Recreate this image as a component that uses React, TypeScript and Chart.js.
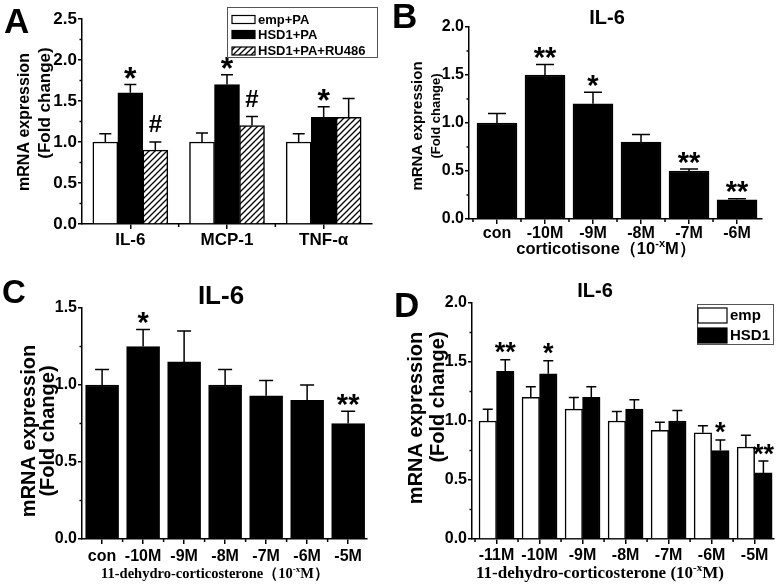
import React, { useEffect, useRef } from 'react';
import { Chart, registerables } from 'chart.js';

Chart.register(...registerables);

const SANS = '"Liberation Sans", Arial, sans-serif';
const SERIF = '"Liberation Serif", "Times New Roman", serif';

// ---------- Panel A ----------
const A_CATEGORIES = ['IL-6', 'MCP-1', 'TNF-α'];
const A_Y_TICKS = [0, 0.5, 1.0, 1.5, 2.0, 2.5];
const A_EMP = [1.0, 1.0, 1.0];
const A_EMP_ERR = [0.1, 0.11, 0.1];
const A_EMP_MARKS = ['', '', ''];
const A_HSD1 = [1.6, 1.7, 1.3];
const A_HSD1_ERR = [0.1, 0.12, 0.13];
const A_HSD1_MARKS = ['*', '*', '*'];
const A_RU486 = [0.9, 1.2, 1.3];
const A_RU486_ERR = [0.1, 0.11, 0.23];
const A_RU486_MARKS = ['#', '#', ''];

// ---------- Panel B ----------
const B_CATEGORIES = ['con', '-10M', '-9M', '-8M', '-7M', '-6M'];
const B_Y_TICKS = [0, 0.5, 1.0, 1.5, 2.0];
const B_VALUES = [1.0, 1.5, 1.2, 0.8, 0.5, 0.2];
const B_ERR = [0.1, 0.11, 0.12, 0.08, 0.02, 0.01];
const B_MARKS = ['', '**', '*', '', '**', '**'];

// ---------- Panel C ----------
const C_CATEGORIES = ['con', '-10M', '-9M', '-8M', '-7M', '-6M', '-5M'];
const C_Y_TICKS = [0, 0.5, 1.0, 1.5];
const C_VALUES = [1.0, 1.25, 1.15, 1.0, 0.93, 0.9, 0.75];
const C_ERR = [0.1, 0.11, 0.2, 0.1, 0.1, 0.1, 0.08];
const C_MARKS = ['', '*', '', '', '', '', '**'];

// ---------- Panel D ----------
const D_CATEGORIES = ['-11M', '-10M', '-9M', '-8M', '-7M', '-6M', '-5M'];
const D_Y_TICKS = [0, 0.5, 1.0, 1.5, 2.0];
const D_EMP = [1.0, 1.2, 1.1, 1.0, 0.92, 0.9, 0.78];
const D_EMP_ERR = [0.1, 0.09, 0.1, 0.08, 0.07, 0.06, 0.1];
const D_EMP_MARKS = ['', '', '', '', '', '', ''];
const D_HSD1 = [1.42, 1.4, 1.2, 1.1, 1.0, 0.75, 0.56];
const D_HSD1_ERR = [0.1, 0.11, 0.09, 0.08, 0.09, 0.09, 0.1];
const D_HSD1_MARKS = ['**', '*', '', '', '', '*', '**'];

type Kind = 'white' | 'black' | 'hatch';
type Series = { label: string; values: number[]; errors: number[]; marks: string[]; kind: Kind };
type TextItem = { text: string; x: number; y: number; size: number };
type TextPart = { text: string; sup?: boolean };
type Panel = {
  letter: TextItem;
  area: { left: number; right: number; top: number; bottom: number };
  yTicks: number[];
  xMin: number;
  xMax: number;
  categories: string[];
  series: Series[];
  barThickness: number;
  capWidth: number;
  tickSize: number;
  xLabelPad: number;
  starSize: number;
  title?: TextItem;
  yTitle: TextItem[];
  xTitle: { parts: TextPart[]; x: number; y: number; size: number; family: string };
  legend?: {
    box: [number, number, number, number];
    swX: number;
    swW: number;
    swH: number;
    rows: number[];
    textX: number;
    size: number;
  };
};

const PANELS: Panel[] = [
  {
    letter: { text: 'A', x: 4, y: 33, size: 35 },
    area: { left: 82, right: 372, top: 19, bottom: 224 },
    yTicks: A_Y_TICKS,
    xMin: -0.5,
    xMax: 2.5,
    categories: A_CATEGORIES,
    series: [
      { label: 'emp+PA', values: A_EMP, errors: A_EMP_ERR, marks: A_EMP_MARKS, kind: 'white' },
      { label: 'HSD1+PA', values: A_HSD1, errors: A_HSD1_ERR, marks: A_HSD1_MARKS, kind: 'black' },
      { label: 'HSD1+PA+RU486', values: A_RU486, errors: A_RU486_ERR, marks: A_RU486_MARKS, kind: 'hatch' },
    ],
    barThickness: 25,
    capWidth: 12,
    tickSize: 17,
    xLabelPad: 1,
    starSize: 32,
    yTitle: [
      { text: 'mRNA expression', x: 25, y: 122, size: 16 },
      { text: '(Fold change)', x: 45, y: 103, size: 17 },
    ],
    xTitle: { parts: [], x: 0, y: 0, size: 0, family: SANS },
    legend: { box: [227, 7, 150, 50], swX: 232, swW: 23, swH: 8, rows: [19.5, 34.5, 51], textX: 258, size: 13 },
  },
  {
    letter: { text: 'B', x: 392, y: 28, size: 35 },
    area: { left: 469, right: 762, top: 27, bottom: 219 },
    yTicks: B_Y_TICKS,
    xMin: -0.583,
    xMax: 5.52,
    categories: B_CATEGORIES,
    series: [{ label: 'IL-6', values: B_VALUES, errors: B_ERR, marks: B_MARKS, kind: 'black' }],
    barThickness: 40,
    capWidth: 18,
    tickSize: 16,
    xLabelPad: 0,
    starSize: 29,
    title: { text: 'IL-6', x: 607, y: 24, size: 20 },
    yTitle: [
      { text: 'mRNA expression', x: 418, y: 126, size: 15 },
      { text: '(Fold change)', x: 436, y: 116, size: 13 },
    ],
    xTitle: {
      parts: [{ text: 'corticotisone（10' }, { text: '-x', sup: true }, { text: 'M）' }],
      x: 606,
      y: 254,
      size: 16.5,
      family: SANS,
    },
  },
  {
    letter: { text: 'C', x: 2, y: 303, size: 33 },
    area: { left: 82, right: 367, top: 308, bottom: 539 },
    yTicks: C_Y_TICKS,
    xMin: -0.49,
    xMax: 6.46,
    categories: C_CATEGORIES,
    series: [{ label: 'IL-6', values: C_VALUES, errors: C_ERR, marks: C_MARKS, kind: 'black' }],
    barThickness: 33,
    capWidth: 14,
    tickSize: 16,
    xLabelPad: 3,
    starSize: 29,
    title: { text: 'IL-6', x: 221, y: 304, size: 26 },
    yTitle: [
      { text: 'mRNA expression', x: 29, y: 431, size: 20 },
      { text: '(Fold change)', x: 48, y: 431, size: 20 },
    ],
    xTitle: {
      parts: [{ text: '11-dehydro-corticosterone（10' }, { text: '-x', sup: true }, { text: 'M）' }],
      x: 215,
      y: 578,
      size: 14.5,
      family: SERIF,
    },
  },
  {
    letter: { text: 'D', x: 394, y: 317, size: 35 },
    area: { left: 472, right: 774, top: 303, bottom: 539 },
    yTicks: D_Y_TICKS,
    xMin: -0.57,
    xMax: 6.45,
    categories: D_CATEGORIES,
    series: [
      { label: 'emp', values: D_EMP, errors: D_EMP_ERR, marks: D_EMP_MARKS, kind: 'white' },
      { label: 'HSD1', values: D_HSD1, errors: D_HSD1_ERR, marks: D_HSD1_MARKS, kind: 'black' },
    ],
    barThickness: 17.5,
    capWidth: 10,
    tickSize: 16,
    xLabelPad: 2,
    starSize: 27,
    title: { text: 'IL-6', x: 595, y: 297, size: 20 },
    yTitle: [
      { text: 'mRNA expression', x: 416, y: 418, size: 20 },
      { text: '(Fold change)', x: 438, y: 397, size: 20 },
    ],
    xTitle: {
      parts: [{ text: '11-dehydro-corticosterone (10' }, { text: '-x', sup: true }, { text: 'M)' }],
      x: 600,
      y: 578,
      size: 17,
      family: SERIF,
    },
    legend: { box: [697, 304, 76, 40], swX: 698, swW: 29, swH: 15, rows: [315.5, 335.5], textX: 730, size: 15 },
  },
];

const W = 782;
const H = 587;
const Y_AXIS_W = 60;
const X_AXIS_H = 30;

function makeHatch(): CanvasPattern | string {
  const c = document.createElement('canvas');
  c.width = 6;
  c.height = 6;
  const g = c.getContext('2d');
  if (!g) return '#888';
  g.fillStyle = '#fff';
  g.fillRect(0, 0, 6, 6);
  g.strokeStyle = '#000';
  g.lineWidth = 1.3;
  g.beginPath();
  g.moveTo(-1, 7);
  g.lineTo(7, -1);
  g.moveTo(-1, 1);
  g.lineTo(1, -1);
  g.moveTo(5, 7);
  g.lineTo(7, 5);
  g.stroke();
  return g.createPattern(c, 'repeat') || '#888';
}

function fillFor(kind: Kind, hatch: CanvasPattern | string): any {
  if (kind === 'black') return '#000';
  if (kind === 'hatch') return hatch;
  return '#fff';
}

function drawRotated(ctx: CanvasRenderingContext2D, t: TextItem) {
  ctx.save();
  ctx.translate(t.x, t.y);
  ctx.rotate(-Math.PI / 2);
  ctx.font = `bold ${t.size}px ${SANS}`;
  ctx.textAlign = 'center';
  ctx.textBaseline = 'middle';
  ctx.fillStyle = '#000';
  ctx.fillText(t.text, 0, 0);
  ctx.restore();
}

function drawParts(ctx: CanvasRenderingContext2D, xt: Panel['xTitle']) {
  if (!xt.parts.length) return;
  const supSize = Math.round(xt.size * 0.65);
  const widths = xt.parts.map((p) => {
    ctx.font = `bold ${p.sup ? supSize : xt.size}px ${xt.family}`;
    return ctx.measureText(p.text).width;
  });
  const total = widths.reduce((a, b) => a + b, 0);
  let x = xt.x - total / 2;
  ctx.textAlign = 'left';
  ctx.textBaseline = 'alphabetic';
  xt.parts.forEach((p, i) => {
    ctx.font = `bold ${p.sup ? supSize : xt.size}px ${xt.family}`;
    ctx.fillText(p.text, x, p.sup ? xt.y - xt.size * 0.42 : xt.y);
    x += widths[i];
  });
}

function extrasPlugin(p: Panel, hatch: CanvasPattern | string) {
  return {
    id: 'extras',
    afterDatasetsDraw(chart: any) {
      const ctx: CanvasRenderingContext2D = chart.ctx;
      const ys = chart.scales.y;
      const xs = chart.scales.x;
      const ca = chart.chartArea;
      ctx.save();
      ctx.fillStyle = '#000';
      ctx.strokeStyle = '#000';

      // error bars and significance marks
      p.series.forEach((s, di) => {
        const meta = chart.getDatasetMeta(di);
        meta.data.forEach((el: any, i: number) => {
          const x = el.x;
          const yTop = ys.getPixelForValue(s.values[i]);
          const yErr = ys.getPixelForValue(s.values[i] + s.errors[i]);
          ctx.lineWidth = 1.5;
          ctx.beginPath();
          ctx.moveTo(x, yTop);
          ctx.lineTo(x, yErr);
          ctx.moveTo(x - p.capWidth / 2, yErr);
          ctx.lineTo(x + p.capWidth / 2, yErr);
          ctx.stroke();
          const m = s.marks[i];
          if (m) {
            ctx.textAlign = 'center';
            ctx.textBaseline = 'alphabetic';
            if (m === '#') {
              ctx.font = `bold 24px ${SANS}`;
              ctx.fillText(m, x, yErr - 10);
            } else {
              ctx.font = `bold ${p.starSize}px ${SANS}`;
              ctx.fillText(m, x, yErr - 14 + 0.57 * p.starSize);
            }
          }
        });
      });

      // minor ticks on y axis
      ctx.lineWidth = 1.5;
      ctx.beginPath();
      for (let i = 0; i < p.yTicks.length - 1; i++) {
        const py = ys.getPixelForValue((p.yTicks[i] + p.yTicks[i + 1]) / 2);
        ctx.moveTo(ca.left - 2.5, py);
        ctx.lineTo(ca.left, py);
      }
      // minor ticks on x axis at category boundaries
      for (let k = -1; k < p.categories.length; k++) {
        const b = k + 0.5;
        if (b <= p.xMin + 0.02 || b >= p.xMax - 0.02) continue;
        const px = xs.getPixelForValue(b);
        ctx.moveTo(px, ca.bottom);
        ctx.lineTo(px, ca.bottom + 3);
      }
      ctx.stroke();

      // panel letter
      ctx.textAlign = 'left';
      ctx.textBaseline = 'alphabetic';
      ctx.font = `bold ${p.letter.size}px ${SANS}`;
      ctx.fillText(p.letter.text, p.letter.x, p.letter.y);

      // title
      if (p.title) {
        ctx.textAlign = 'center';
        ctx.font = `bold ${p.title.size}px ${SANS}`;
        ctx.fillText(p.title.text, p.title.x, p.title.y);
      }

      // axis titles
      p.yTitle.forEach((t) => drawRotated(ctx, t));
      drawParts(ctx, p.xTitle);

      // legend
      if (p.legend) {
        const lg = p.legend;
        ctx.lineWidth = 1;
        ctx.strokeStyle = '#555';
        ctx.strokeRect(lg.box[0] + 0.5, lg.box[1] + 0.5, lg.box[2], lg.box[3]);
        ctx.strokeStyle = '#000';
        p.series.forEach((s, i) => {
          const cy = lg.rows[i];
          ctx.fillStyle = fillFor(s.kind, hatch);
          ctx.fillRect(lg.swX, cy - lg.swH / 2, lg.swW, lg.swH);
          ctx.lineWidth = 1.2;
          ctx.strokeRect(lg.swX, cy - lg.swH / 2, lg.swW, lg.swH);
          ctx.fillStyle = '#000';
          ctx.font = `bold ${lg.size}px ${SANS}`;
          ctx.textAlign = 'left';
          ctx.textBaseline = 'middle';
          ctx.fillText(s.label, lg.textX, cy + 0.5);
        });
      }
      ctx.restore();
    },
  };
}

function buildChart(canvas: HTMLCanvasElement, p: Panel): Chart {
  const hatch = makeHatch();
  const n = p.categories.length;
  const datasets = p.series.map((s) => ({
    label: s.label,
    data: s.values.map((v, i) => ({ x: i, y: v })),
    backgroundColor: fillFor(s.kind, hatch),
    borderColor: '#000',
    borderWidth: 1.5,
    barThickness: p.barThickness,
  }));
  const tickFont = { family: SANS, size: p.tickSize, weight: 'bold' as const };
  const config: any = {
    type: 'bar',
    data: { datasets },
    options: {
      responsive: false,
      animation: false,
      devicePixelRatio: 1,
      layout: {
        padding: {
          left: p.area.left - Y_AXIS_W,
          right: W - p.area.right,
          top: p.area.top,
          bottom: H - p.area.bottom - X_AXIS_H,
        },
      },
      plugins: { legend: { display: false }, tooltip: { enabled: false }, title: { display: false } },
      scales: {
        x: {
          type: 'linear',
          offset: false,
          bounds: 'data',
          min: p.xMin,
          max: p.xMax,
          afterBuildTicks: (scale: any) => {
            scale.ticks = p.categories.map((_, i) => ({ value: i }));
          },
          afterFit: (scale: any) => {
            scale.height = X_AXIS_H;
          },
          ticks: {
            autoSkip: false,
            maxRotation: 0,
            minRotation: 0,
            padding: p.xLabelPad,
            color: '#000',
            font: tickFont,
            callback: (v: number) => (Number.isInteger(v) && v >= 0 && v < n ? p.categories[v] : ''),
          },
          grid: {
            display: true,
            offset: false,
            drawOnChartArea: false,
            drawTicks: true,
            tickLength: 5,
            color: '#000',
            lineWidth: 1.5,
          },
          border: { display: true, color: '#000', width: 1.5 },
        },
        y: {
          type: 'linear',
          min: p.yTicks[0],
          max: p.yTicks[p.yTicks.length - 1],
          afterBuildTicks: (scale: any) => {
            scale.ticks = p.yTicks.map((v) => ({ value: v }));
          },
          afterFit: (scale: any) => {
            scale.width = Y_AXIS_W;
          },
          ticks: {
            padding: 1,
            color: '#000',
            font: tickFont,
            callback: (v: number) => v.toFixed(1),
          },
          grid: { display: true, drawOnChartArea: false, drawTicks: true, tickLength: 4, color: '#000', lineWidth: 1.5 },
          border: { display: true, color: '#000', width: 1.5 },
        },
      },
    },
    plugins: [extrasPlugin(p, hatch)],
  };
  return new Chart(canvas, config);
}

export default function App() {
  const r0 = useRef<HTMLCanvasElement>(null);
  const r1 = useRef<HTMLCanvasElement>(null);
  const r2 = useRef<HTMLCanvasElement>(null);
  const r3 = useRef<HTMLCanvasElement>(null);
  const refs = [r0, r1, r2, r3];

  useEffect(() => {
    const charts: Chart[] = [];
    PANELS.forEach((p, i) => {
      const c = refs[i].current;
      if (c) charts.push(buildChart(c, p));
    });
    return () => charts.forEach((c) => c.destroy());
  }, []);

  return (
    <div
      style={{
        position: 'absolute',
        left: 0,
        top: 0,
        width: W,
        height: H,
        background: '#fff',
        overflow: 'hidden',
      }}
    >
      {PANELS.map((_, i) => (
        <canvas
          key={i}
          ref={refs[i]}
          width={W}
          height={H}
          style={{ position: 'absolute', left: 0, top: 0, width: W, height: H }}
        />
      ))}
    </div>
  );
}
